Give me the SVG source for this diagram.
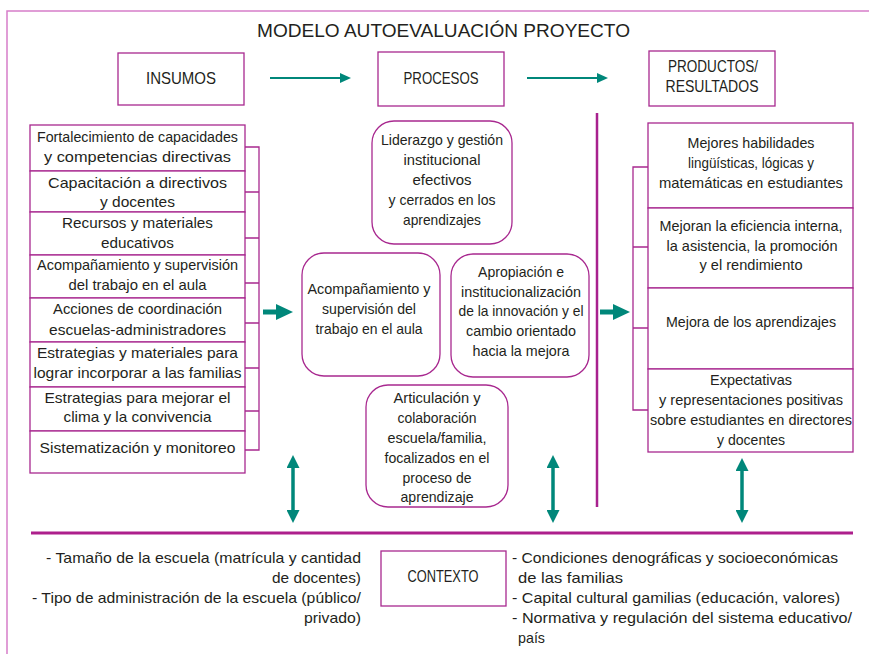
<svg xmlns="http://www.w3.org/2000/svg" width="869" height="654" viewBox="0 0 869 654">
<style>
.t{font-family:"Liberation Sans",Arial,sans-serif;font-size:15px;fill:#231f20;text-anchor:middle}
.h{font-size:16.5px}
.s{text-anchor:start}
.e{text-anchor:end}
.box{fill:#fff;stroke:#a8288f;stroke-width:1.3}
.rbox{fill:#fff;stroke:#a8288f;stroke-width:1.3}
.br{fill:none;stroke:#a8288f;stroke-width:1.3}
.ar{stroke:#00877a;fill:none}
</style>
<defs>
<marker id="hs" viewBox="0 0 11 10" refX="0" refY="5" markerWidth="11" markerHeight="10" markerUnits="userSpaceOnUse" orient="auto-start-reverse"><path d="M0,0 L11,5 L0,10 z" fill="#00877a"/></marker>
<marker id="hb" viewBox="0 0 17 16" refX="0" refY="8" markerWidth="17" markerHeight="16" markerUnits="userSpaceOnUse" orient="auto-start-reverse"><path d="M0,0 L17,8 L0,16 z" fill="#00877a"/></marker>
<marker id="hd" viewBox="0 0 13 13" refX="0" refY="6.5" markerWidth="13" markerHeight="13" markerUnits="userSpaceOnUse" orient="auto-start-reverse"><path d="M0,0 L13,6.5 L0,13 z" fill="#00877a"/></marker>
</defs>
<rect width="869" height="654" fill="#fff"/>
<path d="M7,654 L7,11 L869,11" fill="none" stroke="#d67ec9" stroke-width="1.5"/>
<text class="t" x="443.5" y="37" style="font-size:18px" textLength="373" lengthAdjust="spacingAndGlyphs">MODELO AUTOEVALUACIÓN PROYECTO</text>

<g id="insumos"><rect class="box" x="118" y="53" width="126" height="52"/><text class="t h" x="181" y="84" textLength="70" lengthAdjust="spacingAndGlyphs">INSUMOS</text></g>
<g id="procesos"><rect class="box" x="378" y="52" width="126" height="54"/><text class="t h" x="441" y="84" textLength="75" lengthAdjust="spacingAndGlyphs">PROCESOS</text></g>
<g id="productos"><rect class="box" x="649" y="51" width="126" height="55"/><text class="t h" x="713" y="72" textLength="90" lengthAdjust="spacingAndGlyphs">PRODUCTOS/</text><text class="t h" x="712" y="92" textLength="93" lengthAdjust="spacingAndGlyphs">RESULTADOS</text></g>

<g id="in1"><rect class="box" x="30" y="125" width="215" height="46"/><text class="t" x="137.5" y="142" textLength="201" lengthAdjust="spacingAndGlyphs">Fortalecimiento de capacidades</text><text class="t" x="137.5" y="162" textLength="187" lengthAdjust="spacingAndGlyphs">y competencias directivas</text></g>
<g id="in2"><rect class="box" x="30" y="171" width="215" height="41"/><text class="t" x="137.5" y="188" textLength="179" lengthAdjust="spacingAndGlyphs">Capacitación a directivos</text><text class="t" x="137.5" y="207" textLength="75" lengthAdjust="spacingAndGlyphs">y docentes</text></g>
<g id="in3"><rect class="box" x="30" y="212" width="215" height="43"/><text class="t" x="137.5" y="228" textLength="151" lengthAdjust="spacingAndGlyphs">Recursos y materiales</text><text class="t" x="137.5" y="248" textLength="73" lengthAdjust="spacingAndGlyphs">educativos</text></g>
<g id="in4"><rect class="box" x="30" y="255" width="215" height="43"/><text class="t" x="137.5" y="270" textLength="201" lengthAdjust="spacingAndGlyphs">Acompañamiento y supervisión</text><text class="t" x="137.5" y="290" textLength="138" lengthAdjust="spacingAndGlyphs">del trabajo en el aula</text></g>
<g id="in5"><rect class="box" x="30" y="298" width="215" height="44"/><text class="t" x="137.5" y="314" textLength="169" lengthAdjust="spacingAndGlyphs">Acciones de coordinación</text><text class="t" x="137.5" y="335" textLength="177" lengthAdjust="spacingAndGlyphs">escuelas-administradores</text></g>
<g id="in6"><rect class="box" x="30" y="342" width="215" height="45"/><text class="t" x="137.5" y="358" textLength="201" lengthAdjust="spacingAndGlyphs">Estrategias y materiales para</text><text class="t" x="137.5" y="378" textLength="208" lengthAdjust="spacingAndGlyphs">lograr incorporar a las familias</text></g>
<g id="in7"><rect class="box" x="30" y="387" width="215" height="44"/><text class="t" x="137.5" y="403" textLength="186" lengthAdjust="spacingAndGlyphs">Estrategias para mejorar el</text><text class="t" x="137.5" y="422" textLength="148" lengthAdjust="spacingAndGlyphs">clima y la convivencia</text></g>
<g id="in8"><rect class="box" x="30" y="431" width="215" height="42"/><text class="t" x="137.5" y="453" textLength="196" lengthAdjust="spacingAndGlyphs">Sistematización y monitoreo</text></g>

<g id="pr1"><rect class="rbox" x="372" y="121" width="140" height="123" rx="22"/><text class="t" x="442" y="145" textLength="122" lengthAdjust="spacingAndGlyphs">Liderazgo y gestión</text><text class="t" x="442" y="165" textLength="77" lengthAdjust="spacingAndGlyphs">institucional</text><text class="t" x="442" y="185" textLength="59" lengthAdjust="spacingAndGlyphs">efectivos</text><text class="t" x="442" y="205" textLength="107" lengthAdjust="spacingAndGlyphs">y cerrados en los</text><text class="t" x="442" y="225" textLength="78" lengthAdjust="spacingAndGlyphs">aprendizajes</text></g>
<g id="pr2"><rect class="rbox" x="302" y="253" width="138" height="123" rx="22"/><text class="t" x="369" y="294" textLength="123" lengthAdjust="spacingAndGlyphs">Acompañamiento y</text><text class="t" x="369" y="314" textLength="94" lengthAdjust="spacingAndGlyphs">supervisión del</text><text class="t" x="369" y="334" textLength="107" lengthAdjust="spacingAndGlyphs">trabajo en el aula</text></g>
<g id="pr3"><rect class="rbox" x="451" y="254" width="138" height="123" rx="22"/><text class="t" x="521" y="277" textLength="86" lengthAdjust="spacingAndGlyphs">Apropiación e</text><text class="t" x="521" y="297" textLength="120" lengthAdjust="spacingAndGlyphs">institucionalización</text><text class="t" x="521" y="316" textLength="125" lengthAdjust="spacingAndGlyphs">de la innovación y el</text><text class="t" x="521" y="336" textLength="110" lengthAdjust="spacingAndGlyphs">cambio orientado</text><text class="t" x="521" y="356" textLength="97" lengthAdjust="spacingAndGlyphs">hacia la mejora</text></g>
<g id="pr4"><rect class="rbox" x="366" y="385" width="142" height="122" rx="22"/><text class="t" x="437" y="403" textLength="87" lengthAdjust="spacingAndGlyphs">Articulación y</text><text class="t" x="437" y="423" textLength="79" lengthAdjust="spacingAndGlyphs">colaboración</text><text class="t" x="437" y="443" textLength="99" lengthAdjust="spacingAndGlyphs">escuela/familia,</text><text class="t" x="437" y="463" textLength="105" lengthAdjust="spacingAndGlyphs">focalizados en el</text><text class="t" x="437" y="483" textLength="69" lengthAdjust="spacingAndGlyphs">proceso de</text><text class="t" x="437" y="502" textLength="73" lengthAdjust="spacingAndGlyphs">aprendizaje</text></g>

<g id="re1"><rect class="box" x="648" y="123" width="205" height="85"/><text class="t" x="751" y="148" textLength="127" lengthAdjust="spacingAndGlyphs">Mejores habilidades</text><text class="t" x="751" y="168" textLength="126" lengthAdjust="spacingAndGlyphs">lingüísticas, lógicas y</text><text class="t" x="751" y="188" textLength="184" lengthAdjust="spacingAndGlyphs">matemáticas en estudiantes</text></g>
<g id="re2"><rect class="box" x="648" y="208" width="205" height="80"/><text class="t" x="751" y="231" textLength="183" lengthAdjust="spacingAndGlyphs">Mejoran la eficiencia interna,</text><text class="t" x="752" y="251" textLength="171" lengthAdjust="spacingAndGlyphs">la asistencia, la promoción</text><text class="t" x="751" y="270" textLength="103" lengthAdjust="spacingAndGlyphs">y el rendimiento</text></g>
<g id="re3"><rect class="box" x="648" y="288" width="205" height="81"/><text class="t" x="751" y="327" textLength="170" lengthAdjust="spacingAndGlyphs">Mejora de los aprendizajes</text></g>
<g id="re4"><rect class="box" x="648" y="369" width="205" height="83"/><text class="t" x="751" y="385" textLength="82" lengthAdjust="spacingAndGlyphs">Expectativas</text><text class="t" x="751" y="405" textLength="184" lengthAdjust="spacingAndGlyphs">y representaciones positivas</text><text class="t" x="751" y="425" textLength="202" lengthAdjust="spacingAndGlyphs">sobre estudiantes en directores</text><text class="t" x="751" y="445" textLength="68" lengthAdjust="spacingAndGlyphs">y docentes</text></g>

<g id="contexto"><rect class="box" x="381" y="551" width="125" height="55"/><text class="t h" x="443" y="582" textLength="71" lengthAdjust="spacingAndGlyphs">CONTEXTO</text></g>
<g id="ctx-left">
<text class="t e" x="361" y="563" textLength="315" lengthAdjust="spacingAndGlyphs">- Tamaño de la escuela (matrícula y cantidad</text>
<text class="t e" x="361" y="583" textLength="89" lengthAdjust="spacingAndGlyphs">de docentes)</text>
<text class="t e" x="361" y="603" textLength="329" lengthAdjust="spacingAndGlyphs">- Tipo de administración de la escuela (público/</text>
<text class="t e" x="361" y="623" textLength="57" lengthAdjust="spacingAndGlyphs">privado)</text>
</g>
<g id="ctx-right">
<text class="t s" x="512" y="563" textLength="326" lengthAdjust="spacingAndGlyphs">- Condiciones denográficas y socioeconómicas</text>
<text class="t s" x="518" y="583" textLength="105" lengthAdjust="spacingAndGlyphs">de las familias</text>
<text class="t s" x="512" y="603" textLength="328" lengthAdjust="spacingAndGlyphs">- Capital cultural gamilias (educación, valores)</text>
<text class="t s" x="512" y="623" textLength="340" lengthAdjust="spacingAndGlyphs">- Normativa y regulación del sistema educativo/</text>
<text class="t s" x="518" y="643" textLength="27" lengthAdjust="spacingAndGlyphs">país</text>
</g>

<g id="connectors">
<path class="br" d="M245,147 H259 V450 H245 M245,192 H259 M245,238 H259 M245,283 H259 M245,323 H259 M245,368 H259 M245,411 H259"/>
<path class="br" d="M648,167 H633 V410 H648 M633,247 H648 M633,328 H648"/>
<line x1="597" y1="113" x2="597" y2="507" stroke="#a8218e" stroke-width="2.5"/>
<line x1="31" y1="533" x2="853" y2="533" stroke="#ad1f8c" stroke-width="3"/>
<line class="ar" x1="270" y1="78" x2="340" y2="78" stroke-width="2" marker-end="url(#hs)"/>
<line class="ar" x1="527" y1="78" x2="597" y2="78" stroke-width="2" marker-end="url(#hs)"/>
<line class="ar" x1="263" y1="312" x2="276" y2="312" stroke-width="5" marker-end="url(#hb)"/>
<line class="ar" x1="600" y1="312" x2="613" y2="312" stroke-width="5" marker-end="url(#hb)"/>
<line class="ar" x1="293" y1="468" x2="293" y2="510" stroke-width="3.5" marker-start="url(#hd)" marker-end="url(#hd)"/>
<line class="ar" x1="553" y1="468" x2="553" y2="510" stroke-width="3.5" marker-start="url(#hd)" marker-end="url(#hd)"/>
<line class="ar" x1="742" y1="471" x2="742" y2="510" stroke-width="3.5" marker-start="url(#hd)" marker-end="url(#hd)"/>
</g>
</svg>
